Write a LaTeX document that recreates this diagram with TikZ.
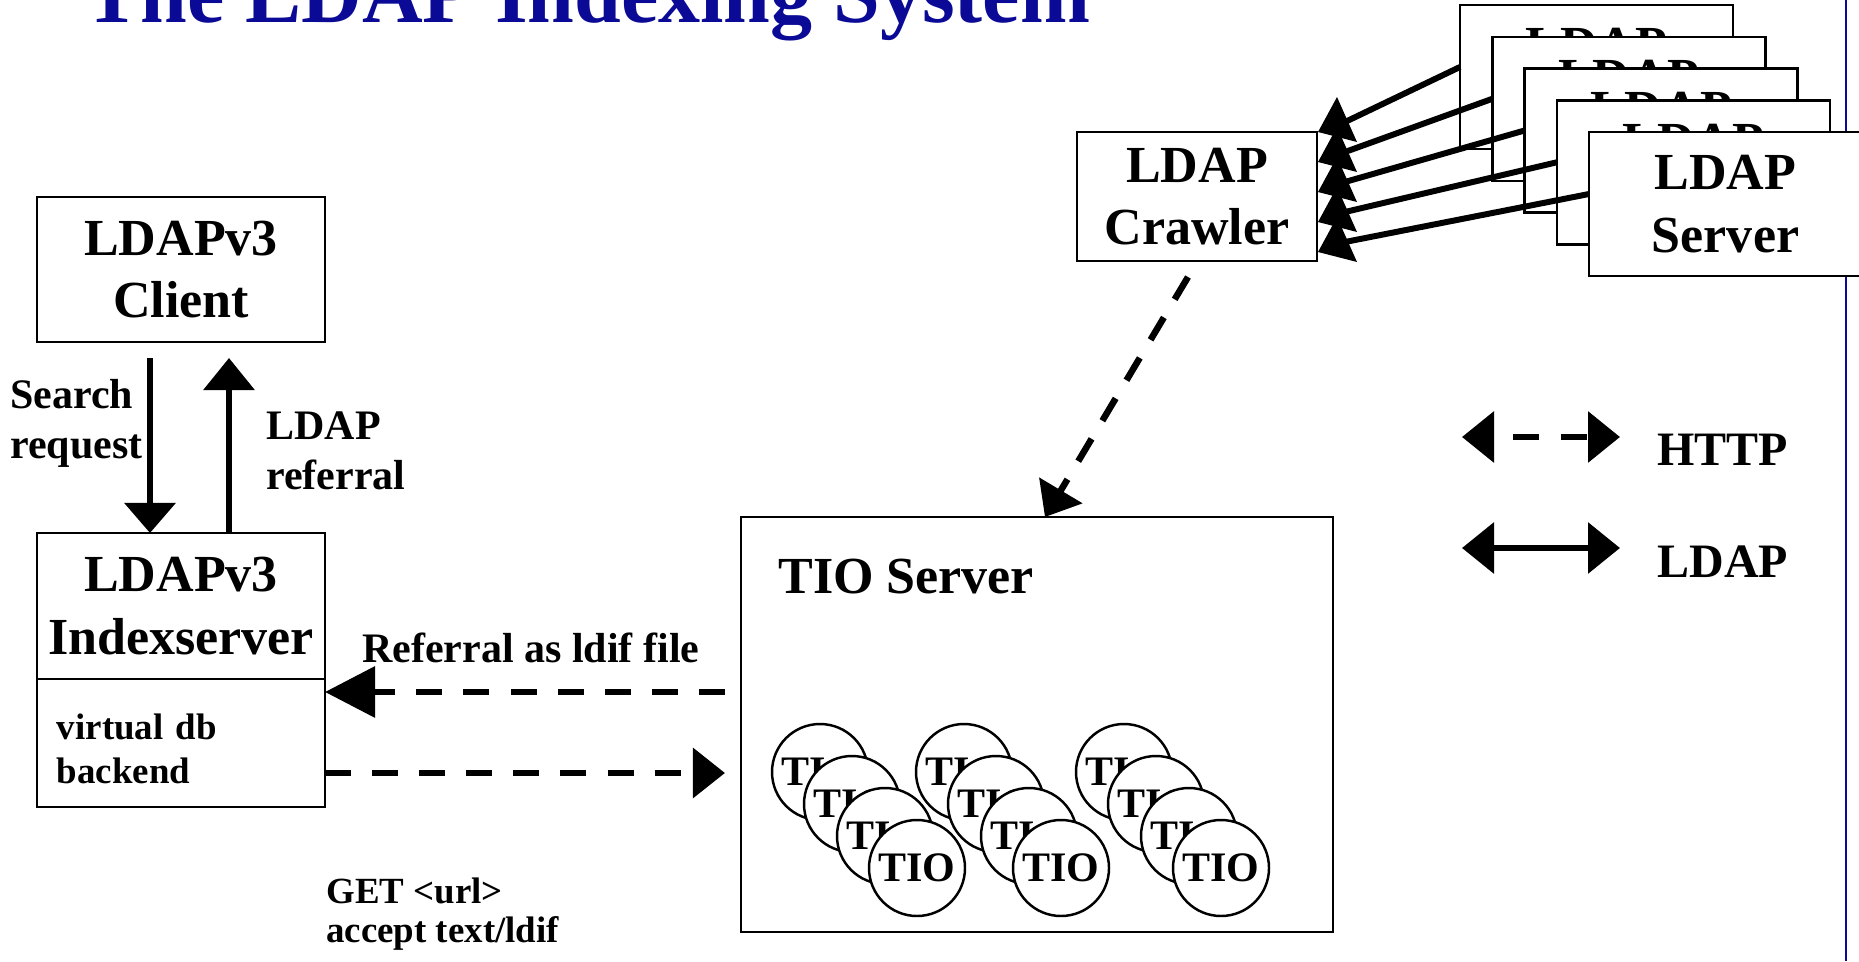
\documentclass[tikz,border=0pt]{standalone}
\usepackage{fontspec}
\setmainfont{Liberation Serif}
\usetikzlibrary{arrows.meta,positioning,calc}
\definecolor{slideblue}{RGB}{10,10,150}

\begin{document}
\begin{tikzpicture}[scale=0.2]
\tikzstyle{every node}+=[inner sep=0pt, font=\bfseries]
\tikzstyle{box}=[draw=black, line width=1.4pt, outer sep=0pt, fill=white, align=center, font=\bfseries\fontsize{29.6}{35.5}\selectfont]
\tikzstyle{srv}=[box, minimum width=5.46cm, minimum height=2.88cm]
\tikzstyle{tio}=[circle, draw=black, line width=1.4pt, fill=white, minimum size=1.92cm, font=\bfseries\fontsize{23.9}{28}\selectfont]
\tikzstyle{lbl}=[align=left, font=\bfseries\fontsize{23.9}{28.5}\selectfont]
\tikzstyle{ldap}=[line width=3.7pt]
\tikzstyle{http}=[line width=3.7pt, dash pattern=on 14.8pt off 12pt]
\path [use as bounding box] (0,0) rectangle (185.9,-96.1);
\clip (0,0) rectangle (185.9,-96.1);
\node [anchor=base west, text=slideblue, font=\bfseries\fontsize{47.8}{57}\selectfont] (title) at (8.4,-2.3) {The LDAP Indexing System};
\draw [slideblue, line width=1.2pt] (184.6,0) -- (184.6,-96.1);
% client and index server
\node [box, minimum width=5.76cm, minimum height=2.9cm] (client) at (18.1,-26.95) {LDAPv3\\Client};
\node [box, minimum width=5.76cm, minimum height=2.92cm] (index) at (18.1,-60.6) {LDAPv3\\Indexserver};
\node [box, below=0pt of index, minimum width=5.76cm, minimum height=2.56cm, text width=4.96cm, inner xsep=0.4cm, align=left, font=\bfseries\fontsize{21}{25}\selectfont] (backend) {\rule{0pt}{21.6pt}virtual db\\backend};
\draw [ldap, -{Triangle[length=0.6cm,width=1cm]}] ($(client.south)+(-3.1,-1.6)$) -- ($(index.north)+(-3.1,0)$);
\draw [ldap, -{Triangle[length=0.64cm,width=1cm]}] ($(index.north)+(4.8,0)$) -- ($(client.south)+(4.8,-1.6)$);
\node [lbl, anchor=west] (search) at (1.0,-42.3) {Search\\request};
\node [lbl, anchor=west] (referral) at (26.6,-45.1) {LDAP\\referral};
% TIO server
\node [draw=black, line width=1.4pt, outer sep=0pt, minimum width=11.84cm, minimum height=8.3cm] (tio) at (103.7,-72.45) {};
\node [anchor=base west, font=\bfseries\fontsize{29.6}{35.5}\selectfont] (tiolabel) at (77.8,-59.3) {TIO Server};
\node [tio] (t1a) at (82.0,-77.2) {TIO};
\node [tio] (t1b) at (85.2,-80.4) {TIO};
\node [tio] (t1c) at (88.5,-83.6) {TIO};
\node [tio] (t1d) at (91.7,-86.8) {TIO};
\node [tio] (t2a) at (96.4,-77.2) {TIO};
\node [tio] (t2b) at (99.6,-80.4) {TIO};
\node [tio] (t2c) at (102.9,-83.6) {TIO};
\node [tio] (t2d) at (106.1,-86.8) {TIO};
\node [tio] (t3a) at (112.4,-77.2) {TIO};
\node [tio] (t3b) at (115.6,-80.4) {TIO};
\node [tio] (t3c) at (118.9,-83.6) {TIO};
\node [tio] (t3d) at (122.1,-86.8) {TIO};
\coordinate (refout) at ($(tio.west)+(-1.6,3.25)$);
\coordinate (getin) at ($(tio.west)+(-1.6,-4.85)$);
\draw [http, -{Triangle[length=1cm,width=1cm]}] (refout) -- (refout -| backend.east);
\draw [http, -{Triangle[length=0.64cm,width=0.98cm]}] (getin -| backend.east) -- (getin);
\node [lbl, anchor=base west] (refnote) at (36.2,-66.2) {Referral as ldif file};
\node [anchor=west, align=left, font=\bfseries\fontsize{21}{22.2}\selectfont] (getnote) at (32.6,-91.4) {GET <url>\\accept text/ldif};
% crawler and ldap servers
\node [box, minimum width=4.8cm, minimum height=2.58cm] (crawler) at (119.7,-19.65) {LDAP\\Crawler};
\node [srv] (srv1) at (159.65,-7.70) {LDAP\\Server};
\node [srv] (srv2) at (162.88,-10.88) {LDAP\\Server};
\node [srv] (srv3) at (166.10,-14.05) {LDAP\\Server};
\node [srv] (srv4) at (169.33,-17.23) {LDAP\\Server};
\node [srv] (srv5) at (172.55,-20.40) {LDAP\\Server};
\draw [line width=3.4pt] ($(srv1.west)+(0,1.0)$) -- ($(crawler.east)+(2.8,7.45)$);
\draw [line width=3.4pt] ($(srv2.west)+(0,1.0)$) -- ($(crawler.east)+(2.8,4.45)$);
\draw [line width=3.4pt] ($(srv3.west)+(0,1.0)$) -- ($(crawler.east)+(2.8,1.45)$);
\draw [line width=3.4pt] ($(srv4.west)+(0,1.0)$) -- ($(crawler.east)+(2.8,-1.55)$);
\draw [line width=3.4pt] ($(srv5.west)+(0,1.0)$) -- ($(crawler.east)+(2.8,-4.55)$);
\fill [black] (133.7,-9.7) -- (131.8,-13.2) -- (135.7,-14.2);
\fill [black] (133.7,-12.7) -- (131.8,-16.2) -- (135.7,-17.2);
\fill [black] (133.7,-15.7) -- (131.8,-19.2) -- (135.7,-20.2);
\fill [black] (133.7,-18.7) -- (131.8,-22.2) -- (135.7,-23.2);
\fill [black] (133.7,-21.7) -- (131.8,-25.2) -- (135.7,-26.2);
\draw [http, -{Triangle[length=0.62cm,width=0.98cm]}] ($(crawler.south)+(-0.9,-1.6)$) -- ($(tio.north)+(0.8,0)$);
% legend
\coordinate (httpl) at (146.2,-43.7);
\coordinate (httpr) at (162.0,-43.7);
\coordinate (ldapl) at (146.2,-54.8);
\coordinate (ldapr) at (162.0,-54.8);
\draw [http, dash phase=14.8pt, {Triangle[length=0.64cm,width=1cm]}-{Triangle[length=0.64cm,width=1cm]}] (httpl) -- (httpr);
\draw [ldap, {Triangle[length=0.64cm,width=1cm]}-{Triangle[length=0.64cm,width=1cm]}] (ldapl) -- (ldapr);
\node [anchor=base west, font=\bfseries\fontsize{27.3}{32}\selectfont] (httplbl) at (165.7,-46.5) {HTTP};
\node [anchor=base west, font=\bfseries\fontsize{27.3}{32}\selectfont] (ldaplbl) at (165.7,-57.7) {LDAP};
\end{tikzpicture}
\end{document}
